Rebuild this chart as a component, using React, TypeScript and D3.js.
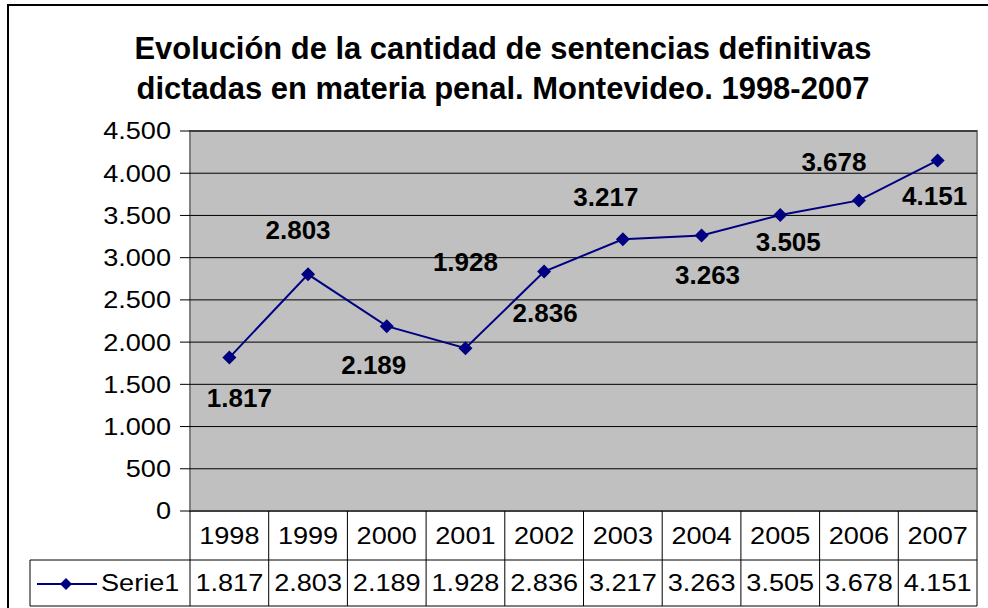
import * as d3 from 'd3';

const years = ['1998', '1999', '2000', '2001', '2002', '2003', '2004', '2005', '2006', '2007'];
const values = [1817, 2803, 2189, 1928, 2836, 3217, 3263, 3505, 3678, 4151];
const yTicks = [0, 500, 1000, 1500, 2000, 2500, 3000, 3500, 4000, 4500];
const seriesName = 'Serie1';
const titleLines = [
  'Evolución de la cantidad de sentencias definitivas',
  'dictadas en materia penal. Montevideo. 1998-2007',
];
// manual label placement (px offset from the marker), as in the original sheet
const labelDx = [10, -10, -13, 0, 1, -17, 6, 8, -25, -3];
const labelDy = [40, -44, 39, -86, 41, -42, 40, 27, -38, 36];

const W = 988;
const H = 608;
const FONT = '"Liberation Sans", Arial, sans-serif';
const NAVY = '#000080';
const SMALL = 24;
const STRETCH = 1.13; // the sheet renders axis/table text a bit wide

const locale = d3.formatLocale({ decimal: ',', thousands: '.', grouping: [3], currency: ['$', ''] });
const fmt = locale.format(',');

const plot = { left: 190, right: 977, top: 131, bottom: 511 };
const rowMid = 560;
const tableBottom = 606;
const legendLeft = 30;

const x = d3.scaleBand<string>().domain(years).range([plot.left, plot.right]);
const y = d3.scaleLinear().domain([0, 4500]).range([plot.bottom, plot.top]);

const cx = (yr: string) => (x(yr) ?? 0) + x.bandwidth() / 2;

const line = d3.line<number>()
  .x((_, i) => cx(years[i]))
  .y(d => y(d));

const diamond = (px: number, py: number, r = 7) =>
  `M${px},${py - r}L${px + r},${py}L${px},${py + r}L${px - r},${py}Z`;

const Wide = ({ x, y, anchor, children }: { x: number; y: number; anchor: string; children: any }) => (
  <text
    transform={`translate(${x},${y}) scale(${STRETCH},1)`}
    textAnchor={anchor}
    dominantBaseline="central"
    fontSize={SMALL}
    fill="#000"
  >
    {children}
  </text>
);

export default function App() {
  return (
    <svg
      width={W}
      height={H}
      style={{ position: 'absolute', left: 0, top: 0, background: '#fff' }}
      fontFamily={FONT}
    >
      {/* chart area border (runs off the right/bottom edge) */}
      <rect x={8} y={5} width={W + 20} height={H + 20} fill="#fff" stroke="#000" strokeWidth={2} />

      {titleLines.map((t, i) => (
        <text
          key={t}
          x={503}
          y={59 + i * 40}
          textAnchor="middle"
          fontSize={32}
          fontWeight="bold"
          fill="#000"
          textLength={i === 0 ? 737 : 733}
          lengthAdjust="spacingAndGlyphs"
        >
          {t}
        </text>
      ))}

      {/* plot area */}
      <rect x={plot.left} y={plot.top} width={plot.right - plot.left} height={plot.bottom - plot.top} fill="#C0C0C0" stroke="#808080" strokeWidth={2} />

      {yTicks.map(t => (
        <g key={t}>
          {t > 0 && <line x1={plot.left} x2={plot.right} y1={y(t)} y2={y(t)} stroke="#000" strokeWidth={1} />}
          <line x1={plot.left - 10} x2={plot.left} y1={y(t)} y2={y(t)} stroke="#000" strokeWidth={1} />
          <Wide x={171} y={y(t)} anchor="end">{fmt(t)}</Wide>
        </g>
      ))}
      <line x1={plot.left} x2={plot.right} y1={plot.bottom} y2={plot.bottom} stroke="#000" strokeWidth={1} />

      {/* data table */}
      <g stroke="#000" strokeWidth={1}>
        <line x1={legendLeft} x2={plot.right} y1={rowMid} y2={rowMid} />
        <line x1={legendLeft} x2={plot.right} y1={tableBottom} y2={tableBottom} />
        <line x1={legendLeft} x2={legendLeft} y1={rowMid} y2={tableBottom} />
        {years.map(yr => (
          <line key={yr} x1={x(yr)} x2={x(yr)} y1={plot.bottom} y2={tableBottom} />
        ))}
        <line x1={plot.right} x2={plot.right} y1={plot.bottom} y2={tableBottom} />
      </g>
      {years.map((yr, i) => (
        <g key={yr}>
          <Wide x={cx(yr)} y={(plot.bottom + rowMid) / 2} anchor="middle">{yr}</Wide>
          <Wide x={cx(yr)} y={(rowMid + tableBottom) / 2} anchor="middle">{fmt(values[i])}</Wide>
        </g>
      ))}
      <line x1={37} x2={97} y1={584} y2={584} stroke={NAVY} strokeWidth={2} />
      <path d={diamond(66, 584, 6)} fill={NAVY} />
      <Wide x={101} y={(rowMid + tableBottom) / 2} anchor="start">{seriesName}</Wide>

      {/* series */}
      <path d={line(values) ?? ''} fill="none" stroke={NAVY} strokeWidth={2} />
      {values.map((v, i) => (
        <path key={years[i]} d={diamond(cx(years[i]), y(v))} fill={NAVY} />
      ))}
      {values.map((v, i) => (
        <text
          key={'l' + years[i]}
          x={cx(years[i]) + labelDx[i]}
          y={y(v) + labelDy[i]}
          textAnchor="middle"
          dominantBaseline="central"
          fontSize={26}
          fontWeight="bold"
        >
          {fmt(v)}
        </text>
      ))}
    </svg>
  );
}
